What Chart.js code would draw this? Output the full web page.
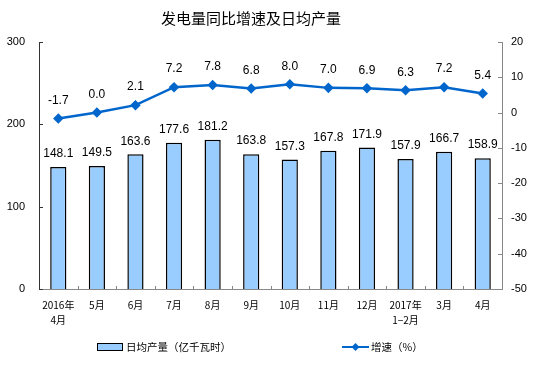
<!DOCTYPE html>
<html><head><meta charset="utf-8">
<script src="https://cdn.jsdelivr.net/npm/chart.js@4/dist/chart.umd.min.js"></script>
<style>html,body{margin:0;padding:0;background:#fff}#wrap{width:554px;height:382px}</style>
</head><body><div id="wrap"><canvas id="c" width="554" height="382"></canvas></div>
<script>
const categories = [["2016年","4月"],"5月","6月","7月","8月","9月","10月","11月","12月",["2017年","1−2月"],"3月","4月"];
const dailyOutput = [148.1,149.5,163.6,177.6,181.2,163.8,157.3,167.8,171.9,157.9,166.7,158.9];
const growthRate = [-1.7,0.0,2.1,7.2,7.8,6.8,8.0,7.0,6.9,6.3,7.2,5.4];
const leftTicks = [0,100,200,300];
const rightTicks = [-50,-40,-30,-20,-10,0,10,20];
const titleText = "发电量同比增速及日均产量";
const barLabel = "日均产量（亿千瓦时）";
const lineLabel = "增速（%）";

const LINE_COLOR = "#0066CC";
const BAR_COLOR = "#99CCFF";
const NUM_FONT = "'Liberation Sans', Arial, sans-serif";
const CJK_FONT = "'Noto Sans CJK SC', 'Liberation Sans', sans-serif";

const extras = {
  id: 'extras',
  afterDraw(chart) {
    const ctx = chart.ctx;
    const a = chart.chartArea;
    const x = chart.scales.x, y = chart.scales.y, y1 = chart.scales.y1;
    ctx.save();
    ctx.lineWidth = 1;
    ctx.strokeStyle = "#333";
    ctx.beginPath(); ctx.moveTo(Math.round(a.left)+0.5, a.top); ctx.lineTo(Math.round(a.left)+0.5, a.bottom); ctx.stroke();
    ctx.strokeStyle = "#888";
    ctx.beginPath(); ctx.moveTo(Math.round(a.right)+0.5, a.top); ctx.lineTo(Math.round(a.right)+0.5, a.bottom); ctx.stroke();
    ctx.beginPath(); ctx.moveTo(a.left, Math.round(a.bottom)+0.5); ctx.lineTo(a.right+1, Math.round(a.bottom)+0.5); ctx.stroke();
    ctx.strokeStyle = "#333";
    leftTicks.forEach(v => { const py = Math.round(y.getPixelForValue(v))+0.5; ctx.beginPath(); ctx.moveTo(a.left, py); ctx.lineTo(a.left+4, py); ctx.stroke(); });
    ctx.strokeStyle = "#888";
    rightTicks.forEach(v => { const py = Math.round(y1.getPixelForValue(v))+0.5; ctx.beginPath(); ctx.moveTo(a.right-4, py); ctx.lineTo(a.right, py); ctx.stroke(); });
    const n = categories.length;
    for (let i = 1; i < n; i++) {
      const px = Math.round((x.getPixelForValue(i-1) + x.getPixelForValue(i))/2)+0.5;
      ctx.beginPath(); ctx.moveTo(px, a.bottom); ctx.lineTo(px, a.bottom-3); ctx.stroke();
    }
    ctx.fillStyle = "#000";
    ctx.font = "12px " + NUM_FONT;
    ctx.textAlign = "center";
    ctx.textBaseline = "middle";
    const mb = chart.getDatasetMeta(1);
    mb.data.forEach((el, i) => { ctx.fillText(dailyOutput[i].toFixed(1), el.x, el.y - 13); });
    const ml = chart.getDatasetMeta(0);
    ml.data.forEach((el, i) => { ctx.fillText(growthRate[i].toFixed(1), el.x, el.y - 18); });
    ctx.font = "15px " + CJK_FONT;
    ctx.fillText(titleText, 251, 18);
    ctx.fillStyle = BAR_COLOR; ctx.strokeStyle = "#000";
    ctx.fillRect(97.5, 343.5, 25, 7); ctx.strokeRect(97.5, 343.5, 25, 7);
    ctx.fillStyle = "#000";
    ctx.font = "10.5px " + CJK_FONT;
    ctx.textAlign = "left";
    ctx.fillText(barLabel, 126, 347.5);
    ctx.strokeStyle = LINE_COLOR; ctx.lineWidth = 2;
    ctx.beginPath(); ctx.moveTo(342, 347); ctx.lineTo(369, 347); ctx.stroke();
    ctx.fillStyle = LINE_COLOR;
    ctx.beginPath(); ctx.moveTo(355.5, 343); ctx.lineTo(359.5, 347); ctx.lineTo(355.5, 351); ctx.lineTo(351.5, 347); ctx.closePath(); ctx.fill();
    ctx.fillStyle = "#000";
    ctx.fillText(lineLabel, 371, 347.5);
    ctx.restore();
  }
};

new Chart(document.getElementById('c'), {
  data: {
    labels: categories,
    datasets: [
      { type: 'line', label: lineLabel, data: growthRate, yAxisID: 'y1', order: 0,
        borderColor: LINE_COLOR, backgroundColor: LINE_COLOR, borderWidth: 2.5,
        pointStyle: 'rectRot', pointRadius: 3.5, pointHoverRadius: 3.5, tension: 0 },
      { type: 'bar', label: barLabel, data: dailyOutput, yAxisID: 'y', order: 1,
        backgroundColor: BAR_COLOR, borderColor: "#000", borderWidth: 1.5,
        categoryPercentage: 1, barPercentage: 0.42 }
    ]
  },
  options: {
    responsive: false, animation: false,
    layout: { padding: { top: 42, left: 0, right: 0, bottom: 0 } },
    plugins: { legend: { display: false }, title: { display: false }, tooltip: { enabled: false } },
    scales: {
      x: {
        grid: { display: false, drawTicks: false }, border: { display: false },
        ticks: { color: "#000", font: { size: 10, family: CJK_FONT, lineHeight: 1.45 }, padding: 9, maxRotation: 0, autoSkip: false },
        afterFit(s) { s.height = 93; }
      },
      y: {
        position: 'left', min: 0, max: 300,
        grid: { display: false, drawTicks: false }, border: { display: false },
        afterBuildTicks(s) { s.ticks = leftTicks.map(v => ({ value: v })); },
        ticks: { color: "#000", font: { size: 11, family: NUM_FONT }, padding: 14 },
        afterFit(s) { s.width = 39; }
      },
      y1: {
        position: 'right', min: -50, max: 20,
        grid: { display: false, drawTicks: false }, border: { display: false },
        afterBuildTicks(s) { s.ticks = rightTicks.map(v => ({ value: v })); },
        ticks: { color: "#000", font: { size: 11, family: NUM_FONT }, padding: 9 },
        afterFit(s) { s.width = 52; }
      }
    }
  },
  plugins: [extras]
});
</script></body></html>
